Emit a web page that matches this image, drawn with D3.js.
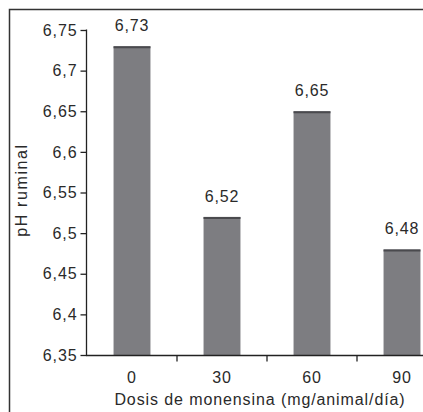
<!DOCTYPE html>
<html><head><meta charset="utf-8">
<script src="https://cdn.jsdelivr.net/npm/d3@7"></script>
<style>
html,body{margin:0;padding:0;background:#fff;}
svg{display:block;}
text{font-family:"Liberation Sans",Arial,sans-serif;fill:#2a2a2a;}
</style></head>
<body>
<svg id="c" width="423" height="412"></svg>
<script>
const categories = ["0","30","60","90"];
const phValues = [6.73, 6.52, 6.65, 6.48];
const valueLabels = ["6,73","6,52","6,65","6,48"];
const yTicks = [6.35,6.4,6.45,6.5,6.55,6.6,6.65,6.7,6.75];
const yTickLabels = ["6,35","6,4","6,45","6,5","6,55","6,6","6,65","6,7","6,75"];
const yTitle = "pH ruminal";
const xTitle = "Dosis de monensina (mg/animal/día)";

const svg = d3.select("#c");
const fs = "16px", ls = "0.9px";

// outer frame
svg.append("rect").attr("x",9.5).attr("y",9.5).attr("width",430).attr("height",430)
  .attr("fill","none").attr("stroke","#333").attr("stroke-width",1.5);

const x = d3.scaleBand().domain(categories).range([87,447]).paddingInner(0.59).paddingOuter(0.295);
const y = d3.scaleLinear().domain([6.35,6.75]).range([355,30]);

// bars
svg.selectAll("rect.bar").data(categories).enter().append("rect")
  .attr("class","bar")
  .attr("x",d=>x(d)).attr("width",x.bandwidth())
  .attr("y",(d,i)=>y(phValues[i])).attr("height",(d,i)=>y(6.35)-y(phValues[i]))
  .attr("fill","#7d7d81");
svg.selectAll("line.bartop").data(categories).enter().append("line")
  .attr("x1",d=>x(d)).attr("x2",d=>x(d)+x.bandwidth())
  .attr("y1",(d,i)=>y(phValues[i])+1).attr("y2",(d,i)=>y(phValues[i])+1)
  .attr("stroke","#4a4a4e").attr("stroke-width",2);

// value labels
svg.selectAll("text.val").data(categories).enter().append("text")
  .attr("x",d=>x(d)+x.bandwidth()/2).attr("y",(d,i)=>y(phValues[i])-15)
  .attr("text-anchor","middle").style("font-size",fs).style("letter-spacing",ls)
  .text((d,i)=>valueLabels[i]);

// y axis
const yAxis = d3.axisLeft(y).tickValues(yTicks).tickSize(6).tickPadding(3)
  .tickFormat((d,i)=>yTickLabels[i]);
const gy = svg.append("g").attr("transform","translate(86.5,0)").call(yAxis);
gy.select(".domain").attr("stroke","#222").attr("stroke-width",1.3).attr("d","M0,29.5V355.5");
gy.selectAll(".tick line").attr("stroke","#222").attr("stroke-width",1.3);
gy.selectAll(".tick text").style("font-size",fs).style("letter-spacing",ls).attr("font-family",null);

// x axis
const xAxis = d3.axisBottom(x).tickSize(0).tickPadding(16);
const gx = svg.append("g").attr("transform","translate(0,355.5)").call(xAxis);
gx.select(".domain").attr("stroke","#222").attr("stroke-width",1.3).attr("d","M86,0H447");
gx.selectAll(".tick text").style("font-size",fs).style("letter-spacing",ls).attr("font-family",null);

// boundary ticks between categories
const boundaries = categories.slice(0,3).map(c=>x(c)+x.step()/2+x.bandwidth()/2);
gx.selectAll("line.bt").data(boundaries).enter().append("line")
  .attr("x1",d=>d).attr("x2",d=>d).attr("y1",0).attr("y2",6)
  .attr("stroke","#222").attr("stroke-width",1.3);

// titles
svg.append("text").attr("x",260).attr("y",405)
  .attr("text-anchor","middle").style("font-size",fs).style("letter-spacing",ls).text(xTitle);
svg.append("text").attr("transform","translate(27,190) rotate(-90)")
  .attr("text-anchor","middle").style("font-size",fs).style("letter-spacing","1.6px").text(yTitle);
</script>
</body></html>
